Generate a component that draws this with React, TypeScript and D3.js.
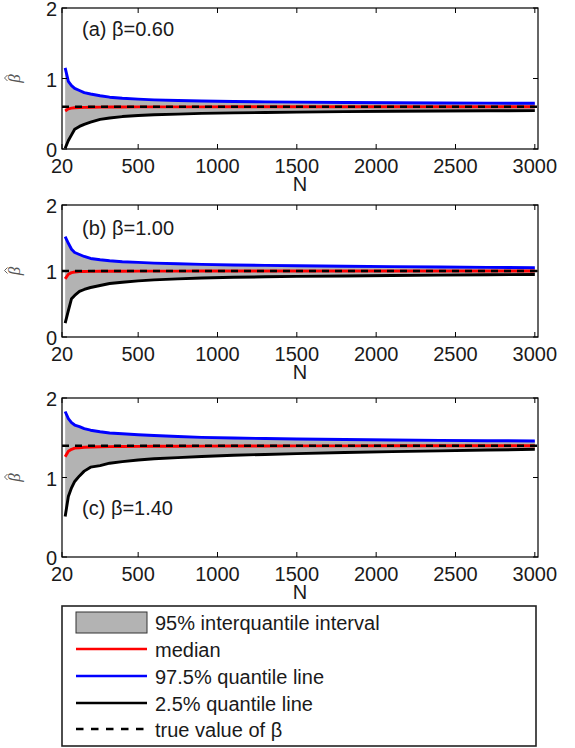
import React from "react";
import * as d3 from "d3";

const N = [40, 60, 80, 100, 130, 160, 200, 260, 320, 400, 500, 600, 750, 900, 1100, 1300, 1500, 1800, 2100, 2400, 2700, 3000];

const upperA = [1.15, 0.96, 0.9, 0.86, 0.83, 0.8, 0.78, 0.755, 0.735, 0.72, 0.707, 0.697, 0.687, 0.68, 0.674, 0.669, 0.665, 0.66, 0.656, 0.653, 0.65, 0.648];
const lowerA = [0.01, 0.12, 0.2, 0.28, 0.32, 0.35, 0.38, 0.42, 0.44, 0.46, 0.475, 0.485, 0.495, 0.505, 0.512, 0.518, 0.523, 0.53, 0.535, 0.539, 0.542, 0.545];
const medianA = [0.54, 0.57, 0.58, 0.585, 0.589, 0.591, 0.593, 0.594, 0.595, 0.596, 0.597, 0.597, 0.598, 0.598, 0.599, 0.599, 0.599, 0.6, 0.6, 0.6, 0.6, 0.6];

const upperB = [1.52, 1.42, 1.33, 1.28, 1.25, 1.22, 1.19, 1.17, 1.155, 1.14, 1.13, 1.12, 1.11, 1.1, 1.09, 1.085, 1.08, 1.072, 1.066, 1.06, 1.055, 1.05];
const lowerB = [0.21, 0.4, 0.58, 0.63, 0.69, 0.72, 0.75, 0.78, 0.81, 0.83, 0.85, 0.865, 0.88, 0.895, 0.905, 0.912, 0.918, 0.925, 0.932, 0.938, 0.943, 0.948];
const medianB = [0.88, 0.95, 0.975, 0.985, 0.99, 0.993, 0.995, 0.996, 0.997, 0.997, 0.998, 0.998, 0.998, 0.999, 0.999, 0.999, 1.0, 1.0, 1.0, 1.0, 1.0, 1.0];

const upperC = [1.83, 1.74, 1.69, 1.66, 1.64, 1.615, 1.595, 1.575, 1.56, 1.55, 1.537, 1.528, 1.515, 1.505, 1.497, 1.49, 1.485, 1.478, 1.472, 1.467, 1.463, 1.46];
const lowerC = [0.51, 0.76, 0.87, 0.95, 1.02, 1.08, 1.13, 1.15, 1.18, 1.2, 1.22, 1.235, 1.25, 1.265, 1.28, 1.29, 1.3, 1.315, 1.325, 1.335, 1.345, 1.355];
const medianC = [1.26, 1.33, 1.355, 1.37, 1.375, 1.38, 1.383, 1.386, 1.388, 1.39, 1.392, 1.393, 1.394, 1.395, 1.396, 1.397, 1.398, 1.398, 1.399, 1.399, 1.4, 1.4];

const trueBeta = [0.6, 1.0, 1.4];
const panelTitles = ["(a) β=0.60", "(b) β=1.00", "(c) β=1.40"];
const xTicks = [20, 500, 1000, 1500, 2000, 2500, 3000];
const yTicks = [0, 1, 2];
const legendLabels = [
  "95% interquantile interval",
  "median",
  "97.5% quantile line",
  "2.5% quantile line",
  "true value of β",
];

const FONT = "'Liberation Sans', Arial, Helvetica, sans-serif";
const LEFT = 62;
const RIGHT = 538;
const panelBox = [
  { top: 8, bottom: 149, titleY: 36 },
  { top: 205, bottom: 337, titleY: 235 },
  { top: 398, bottom: 557, titleY: 515 },
];

const series = [
  { upper: upperA, lower: lowerA, median: medianA },
  { upper: upperB, lower: lowerB, median: medianB },
  { upper: upperC, lower: lowerC, median: medianC },
];

function Panel({ idx }: { idx: number }) {
  const box = panelBox[idx];
  const s = series[idx];
  const x = d3.scaleLinear().domain([20, 3020]).range([LEFT, RIGHT]);
  const y = d3.scaleLinear().domain([0, 2]).range([box.bottom, box.top]);
  const pts = N.map((n, i) => ({ n, u: s.upper[i], l: s.lower[i], m: s.median[i] }));
  const area = d3
    .area<any>()
    .x((d) => x(d.n))
    .y0((d) => y(d.l))
    .y1((d) => y(d.u));
  const line = (key: string) =>
    d3
      .line<any>()
      .x((d) => x(d.n))
      .y((d) => y(d[key]))(pts) as string;
  const tb = trueBeta[idx];
  const [x0, x1] = x.domain();
  const tick = 5;
  const cy = (box.top + box.bottom) / 2;
  return (
    <g>
      <path d={area(pts) as string} fill="#b3b3b3" stroke="none" />
      <path d={line("u")} fill="none" stroke="#0000ff" strokeWidth={2.9} strokeLinejoin="round" />
      <path d={line("l")} fill="none" stroke="#000" strokeWidth={2.9} strokeLinejoin="round" />
      <path d={line("m")} fill="none" stroke="#ff0000" strokeWidth={2.9} strokeLinejoin="round" />
      <line x1={x(x0)} x2={x(x1)} y1={y(tb)} y2={y(tb)} stroke="#000" strokeWidth={2.6} strokeDasharray="7,6" />
      <rect x={LEFT} y={box.top} width={RIGHT - LEFT} height={box.bottom - box.top} fill="none" stroke="#000" strokeWidth={1.2} />
      {xTicks.map((t) => (
        <g key={"x" + t}>
          <line x1={x(t)} x2={x(t)} y1={box.bottom} y2={box.bottom - tick} stroke="#000" strokeWidth={1} />
          <line x1={x(t)} x2={x(t)} y1={box.top} y2={box.top + tick} stroke="#000" strokeWidth={1} />
          <text x={x(t)} y={box.bottom + 24} textAnchor="middle" fontFamily={FONT} fontSize={20} fill="#1a1a1a">
            {t}
          </text>
        </g>
      ))}
      {yTicks.map((t) => (
        <g key={"y" + t}>
          <line x1={LEFT} x2={LEFT + tick} y1={y(t)} y2={y(t)} stroke="#000" strokeWidth={1} />
          <line x1={RIGHT} x2={RIGHT - tick} y1={y(t)} y2={y(t)} stroke="#000" strokeWidth={1} />
          <text x={57} y={y(t) + 8} textAnchor="end" fontFamily={FONT} fontSize={20} fill="#1a1a1a">
            {t}
          </text>
        </g>
      ))}
      <text x={(LEFT + RIGHT) / 2} y={box.bottom + 42} textAnchor="middle" fontFamily={FONT} fontSize={20} fill="#1a1a1a">
        N
      </text>
      <text x={82} y={box.titleY} fontFamily={FONT} fontSize={20} fill="#1a1a1a">
        {panelTitles[idx]}
      </text>
      <g transform={`translate(20,${cy}) rotate(-90)`}>
        <text
          x={0}
          y={0}
          textAnchor="middle"
          fontFamily="'Liberation Serif', 'DejaVu Serif', serif"
          fontStyle="italic"
          fontSize={17}
          fill="#555"
        >
          β
        </text>
        <path d="M-2.5,-12.5 L0.5,-15.5 L3.5,-12.5" fill="none" stroke="#555" strokeWidth={0.9} />
      </g>
    </g>
  );
}

function Legend() {
  const rowsY = [622.5, 649, 676, 703, 729];
  const x0 = 76;
  const x1 = 147;
  return (
    <g>
      <rect x={62} y={606} width={474} height={140} fill="#fff" stroke="#222" strokeWidth={1.6} />
      <rect x={x0} y={612} width={x1 - x0} height={21} fill="#b3b3b3" stroke="#333" strokeWidth={1} />
      <line x1={x0} x2={x1} y1={rowsY[1]} y2={rowsY[1]} stroke="#ff0000" strokeWidth={2.6} />
      <line x1={x0} x2={x1} y1={rowsY[2]} y2={rowsY[2]} stroke="#0000ff" strokeWidth={2.6} />
      <line x1={x0} x2={x1} y1={rowsY[3]} y2={rowsY[3]} stroke="#000" strokeWidth={2.6} />
      <line x1={x0} x2={x1} y1={rowsY[4]} y2={rowsY[4]} stroke="#000" strokeWidth={2.6} strokeDasharray="7.5,7.5" />
      {legendLabels.map((lab, i) => (
        <text key={lab} x={155} y={rowsY[i] + 7.5} fontFamily={FONT} fontSize={20} fill="#1a1a1a">
          {lab}
        </text>
      ))}
    </g>
  );
}

export default function App() {
  return (
    <svg
      width={575}
      height={748}
      style={{ position: "absolute", left: 0, top: 0, background: "#fff" }}
    >
      <rect x={0} y={0} width={575} height={748} fill="#fff" />
      {[0, 1, 2].map((i) => (
        <Panel key={i} idx={i} />
      ))}
      <Legend />
    </svg>
  );
}
